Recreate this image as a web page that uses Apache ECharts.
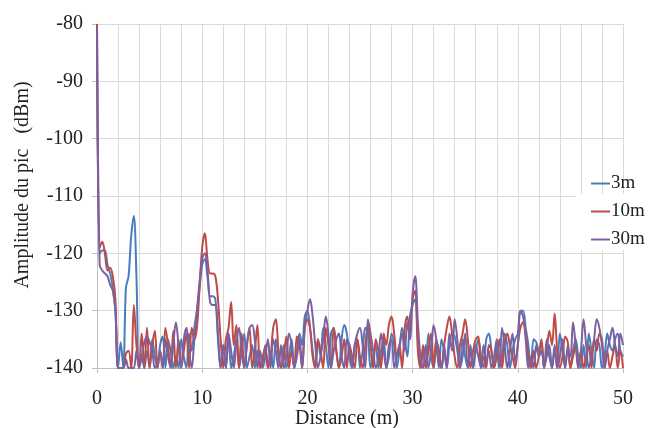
<!DOCTYPE html>
<html>
<head>
<meta charset="utf-8">
<script src="https://cdn.jsdelivr.net/npm/echarts@6/dist/echarts.min.js"></script>
<style>html,body{margin:0;padding:0;background:#fff}#c{width:648px;height:428px}</style>
</head>
<body>
<div id="c"></div>
<script>
// distance step (m) between samples
const step = 0.25;
const seriesNames = ['3m', '10m', '30m'];
const xTicks = [0, 10, 20, 30, 40, 50];
const yTicks = [-140, -130, -120, -110, -100, -90, -80];

const s3m = [
-80,-120,-119.5,-119.5,-122,-123.5,-126,-130,-140,-135.5,-140,-126,-124,-117,-113.5,-124,-140,-138,-140,-137,
-140,-135,-138,-140,-136,-134.5,-140,-135,-137,-140,-138,-140,-135,-138,-140,-134,-137,-133,-130,-126,
-122,-121,-124,-127.5,-127.5,-128,-135,-140,-136,-140,-134,-140,-138,-135,-140,-137,-134,-140,-138,-136,
-140,-137,-140,-139,-136,-140,-137,-140,-135,-138,-140,-136,-140,-138,-135,-140,-137,-134,-136,-131,
-130,-133,-137,-140,-135,-138,-133,-136,-140,-134,-133,-137,-140,-135,-132.5,-134,-138,-140,-136,-135,
-140,-137,-133,-134,-140,-138,-136,-140,-137,-135,-140,-138,-134,-136,-140,-137,-133,-135,-138,-131,
-129,-128,-135,-140,-137,-140,-134,-138,-140,-136,-140,-135,-137,-140,-136,-134,-134.5,-137,-140,-135,
-138,-140,-136,-140,-137,-135,-138,-140,-135,-134,-137,-140,-136,-140,-138,-134,-136,-140,-137,-135,
-134,-130,-130,-133,-136,-140,-135,-135.5,-137,-135.5,-140,-138,-136,-140,-137,-140,-134,-137,-140,-136,
-140,-137,-135,-138,-140,-136,-140,-134,-137,-140,-135,-136,-140,-138,-134,-136,-137,-135,-134,-137,
-138];

const s10m = [
-80,-119,-118,-120,-123,-122.5,-124,-128,-140,-140,-140,-137.5,-137,-140,-129,-136,-140,-134,-140,-133,
-140,-136,-133.5,-140,-137,-140,-133,-136,-140,-133.5,-140,-135,-140,-137,-134,-140,-133,-135,-133,-126,
-119,-116.5,-121,-123.5,-123.5,-124,-128,-135,-140,-135,-133,-128.5,-136,-132.5,-140,-134,-140,-136,-133,-140,
-137,-132.5,-140,-138,-136.5,-140,-138,-133,-131.5,-137,-140,-138,-134.5,-140,-137,-140,-134.5,-136,-140,-133,
-131.5,-133,-138,-140,-135,-137,-140,-133,-136,-140,-133,-137,-140,-138,-135,-140,-136,-138,-140,-135,
-138,-140,-136,-132.5,-136,-140,-135,-137,-140,-134,-136,-132.5,-131,-134,-138,-136,-140,-133,-131,-134,
-128,-126.5,-137,-140,-136,-140,-137,-134,-140,-135,-137,-140,-136,-133,-131,-134,-138,-140,-136,-134,
-131.5,-135,-140,-137,-135,-134.5,-140,-138,-140,-136,-137,-140,-138,-135,-140,-136,-134,-136,-138,-140,
-136,-133,-132,-134,-138,-140,-137,-140,-138,-135,-140,-137,-133.5,-136,-130.5,-137,-140,-138,-134.5,-135.5,
-140,-138,-136,-140,-137,-140,-138,-136,-140,-135,-137,-134,-135,-140,-137,-140,-138,-136,-140,-137,
-140];

const s30m = [
-80.5,-122,-123,-123.5,-124,-125.5,-126.5,-130,-140,-140,-140,-138.5,-140,-140,-140,-137,-140,-138,-135.5,-134.5,
-135.5,-137,-140,-139,-137,-140,-135,-138,-140,-136,-132,-136,-140,-135,-133,-137,-140,-135,-130,-125,
-121,-120,-123,-128.5,-129,-129,-134,-140,-136,-140,-134,-137,-140,-135.5,-133,-137,-140,-136,-133,-132.5,
-135,-140,-137,-140,-138,-135,-140,-135,-137,-140,-136,-140,-138,-134,-136,-140,-138,-135,-140,-133,
-130,-128,-131,-136,-140,-138,-135,-131,-134,-140,-137,-135,-134,-138,-140,-135,-136,-140,-136,-134,
-133,-136,-140,-131.5,-134,-137,-140,-138,-134,-137,-140,-136,-135,-140,-138,-136,-134,-137,-132,-135,
-127,-124,-132,-138,-140,-136,-140,-137,-132.5,-135,-139,-140,-136,-140,-134,-137,-131.5,-135,-140,-138,
-134,-140,-137,-140,-136,-138,-140,-136,-139,-137,-140,-138,-135,-140,-133,-136,-140,-137,-134,-139,
-136,-130,-131,-135,-140,-138,-140,-136,-138,-137,-140,-135,-138,-140,-136,-140,-138,-135,-140,-137,
-138,-132,-136,-140,-137,-131.5,-136,-140,-138,-135,-131.5,-133,-136,-140,-137,-135,-133,-136,-138,-134,
-136];

const colors = ['#4a7ebb', '#be4b48', '#7d60a0'];
const allData = [s3m, s10m, s30m];

function pairs(arr) { return arr.map((v, i) => [i * step, v]); }

const font = 'Liberation Serif';
const chart = echarts.init(document.getElementById('c'), null, { renderer: 'canvas' });
chart.setOption({
  animation: false,
  backgroundColor: '#fff',
  color: colors,
  grid: { left: 97, right: 25, top: 24, bottom: 60, containLabel: false, outerBoundsMode: 'none' },
  xAxis: {
    type: 'value',
    min: xTicks[0], max: xTicks[xTicks.length - 1], interval: 10,
    name: 'Distance (m)', nameLocation: 'middle', nameGap: 41, nameMoveOverlap: false,
    nameTextStyle: { fontFamily: font, fontSize: 20, color: '#222', padding: [0, 26, 0, 0] },
    axisLine: { show: true, onZero: false, lineStyle: { color: '#bfbfbf', width: 1 } },
    axisTick: { show: true, length: 5, inside: false, lineStyle: { color: '#bfbfbf' } },
    axisLabel: { fontFamily: font, fontSize: 20, color: '#222', margin: 21 },
    splitLine: { show: true, lineStyle: { color: '#dadada', width: 1 } },
    minorTick: { show: false, splitNumber: 5 },
    minorSplitLine: { show: true, lineStyle: { color: '#dadada', width: 1 } }
  },
  yAxis: {
    type: 'value',
    min: yTicks[0], max: yTicks[yTicks.length - 1], interval: 10,
    name: 'Amplitude du pic   (dBm)', nameLocation: 'middle', nameGap: 64, nameRotate: 90, nameMoveOverlap: false,
    nameTextStyle: { fontFamily: font, fontSize: 20, color: '#222', padding: [0, 0, 0, 22] },
    axisLine: { show: true, lineStyle: { color: '#bfbfbf', width: 1 } },
    axisTick: { show: true, length: 5, lineStyle: { color: '#bfbfbf' } },
    axisLabel: { fontFamily: font, fontSize: 20, color: '#222', margin: 14 },
    splitLine: { show: true, lineStyle: { color: '#dadada', width: 1 } }
  },
  graphic: [{
    type: 'rect', z: 1, silent: true,
    shape: { x: 576, y: 194, width: 72, height: 56 },
    style: { fill: '#fff' }
  }],
  legend: {
    orient: 'vertical', left: 586, top: 169, z: 5,
    itemWidth: 19, itemHeight: 2, itemGap: 9, icon: 'rect',
    textStyle: { fontFamily: font, fontSize: 19, color: '#222', padding: [0, 0, 0, -4] },
    data: seriesNames
  },
  series: seriesNames.map((n, k) => ({
    name: n, type: 'line', data: pairs(allData[k]),
    showSymbol: false, smooth: 0.35, clip: true, z: 2 + (k === 2 ? 1 : 0),
    lineStyle: { width: 2, color: colors[k] },
    itemStyle: { color: colors[k] }
  }))
});
</script>
</body>
</html>
